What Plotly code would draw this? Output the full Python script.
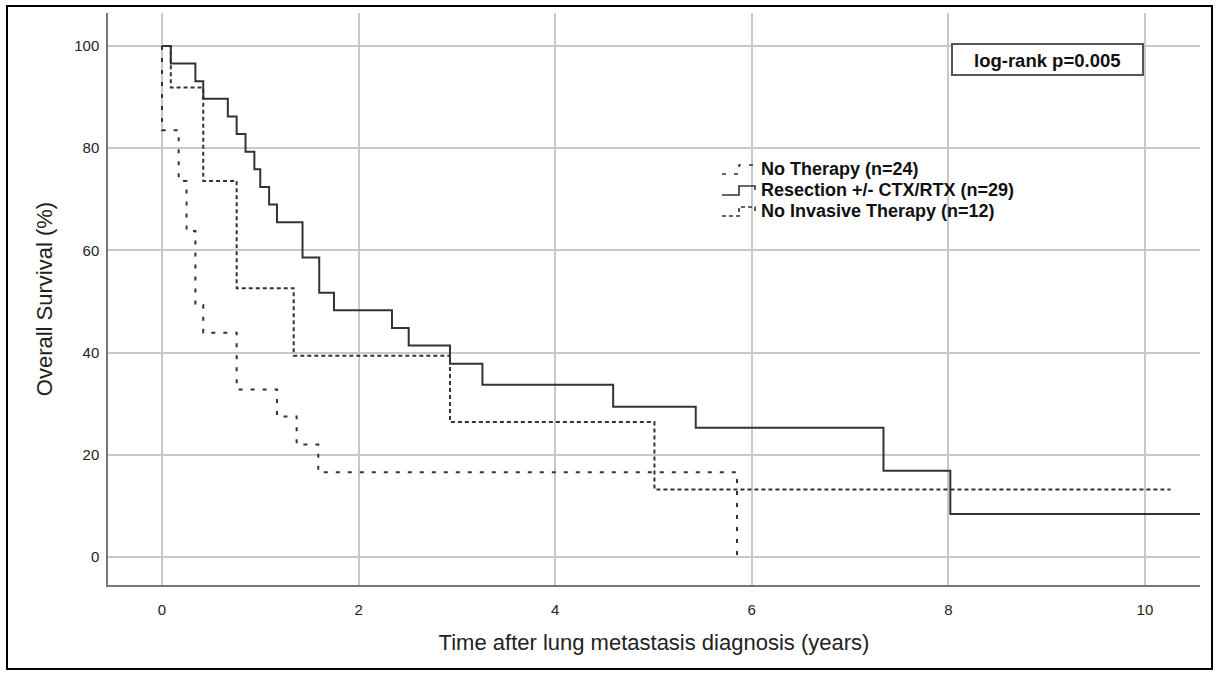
import plotly.graph_objects as go

# Kaplan-Meier step data: event times (years) and survival (%) after each event
no_therapy_t = [0.0, 0.0, 0.17, 0.25, 0.34, 0.42, 0.76, 1.17, 1.37, 1.59, 5.85]
no_therapy_s = [100, 83.5, 73.6, 63.8, 49.3, 43.9, 32.8, 27.5, 22.0, 16.6, 0.0]

resection_t = [0.0, 0.09, 0.34, 0.42, 0.67, 0.76, 0.85, 0.94, 1.00, 1.09, 1.17,
               1.43, 1.60, 1.75, 2.34, 2.51, 2.93, 3.26, 4.59, 5.43, 7.34, 8.02, 10.6]
resection_s = [100, 96.6, 93.1, 89.7, 86.2, 82.8, 79.3, 75.9, 72.4, 69.0, 65.5,
               58.6, 51.7, 48.3, 44.8, 41.4, 37.8, 33.7, 29.4, 25.3, 16.9, 8.4, 8.4]

no_invasive_t = [0.0, 0.09, 0.42, 0.76, 1.34, 2.93, 5.01, 10.26]
no_invasive_s = [100, 91.9, 73.6, 52.6, 39.4, 26.4, 13.2, 13.2]

group_labels = ["No Therapy (n=24)", "Resection +/- CTX/RTX (n=29)", "No Invasive Therapy (n=12)"]
x_ticks = [0, 2, 4, 6, 8, 10]
y_ticks = [0, 20, 40, 60, 80, 100]
p_text = "log-rank p=0.005"

FONT = "Liberation Sans, Arial, sans-serif"
LINE = "#333333"
W, H = 1219, 675
ML, MR, MT, MB = 108, 19, 13, 90
PW, PH = W - ML - MR, H - MT - MB


def px(xpix):
    """Figure pixel column -> paper x."""
    return (xpix - ML) / PW


def py(ypix):
    """Figure pixel row -> paper y."""
    return (H - MB - ypix) / PH


fig = go.Figure()
series = [
    (no_therapy_t, no_therapy_s, group_labels[0], "4px,8px"),
    (resection_t, resection_s, group_labels[1], "solid"),
    (no_invasive_t, no_invasive_s, group_labels[2], "4px,3px"),
]
for t, s, name, dash in series:
    fig.add_trace(go.Scatter(
        x=t, y=s, name=name, mode="lines",
        line=dict(shape="hv", color=LINE, width=2, dash=dash),
        hoverinfo="skip", showlegend=False,
    ))

fig.update_layout(
    width=W, height=H,
    margin=dict(l=ML, r=MR, t=MT, b=MB),
    paper_bgcolor="white", plot_bgcolor="white",
    font=dict(family=FONT, color="#222222"),
    xaxis=dict(
        range=[-0.549, 10.56], tickvals=x_ticks,
        showgrid=True, gridcolor="#c8c8c8", gridwidth=1.5,
        zeroline=False, showline=True, linecolor="#777777", linewidth=1.5,
        ticks="", ticklabelstandoff=10,
        tickfont=dict(size=15, color="#222222"),
        title=dict(text="Time after lung metastasis diagnosis (years)",
                   font=dict(size=22, color="#222222"), standoff=18),
    ),
    yaxis=dict(
        range=[-5.48, 106.46], tickvals=y_ticks,
        showgrid=True, gridcolor="#c8c8c8", gridwidth=1.5,
        zeroline=False, showline=True, linecolor="#777777", linewidth=1.5,
        ticks="", ticklabelstandoff=4,
        tickfont=dict(size=15, color="#222222"),
        title=dict(text="Overall Survival (%)",
                   font=dict(size=22, color="#222222"), standoff=16),
    ),
)

# legend: small step glyph followed by bold label
legend_rows = [169, 190, 211]
for (t, s, name, dash), yc in zip(series, legend_rows):
    path = "M %.5f,%.5f L %.5f,%.5f L %.5f,%.5f L %.5f,%.5f L %.5f,%.5f" % (
        px(722), py(yc + 5), px(739), py(yc + 5), px(739), py(yc - 4),
        px(755), py(yc - 4), px(755), py(yc))
    fig.add_shape(type="path", xref="paper", yref="paper", path=path,
                  line=dict(color=LINE, width=1.6, dash=dash), layer="above")
    fig.add_annotation(xref="paper", yref="paper", x=px(759), y=py(yc),
                       text="<b>%s</b>" % name, showarrow=False,
                       xanchor="left", yanchor="middle",
                       font=dict(family=FONT, size=18, color="#111111"))

# p-value box
bx0, bx1, by0, by1 = px(952), px(1143), py(75), py(44)
fig.add_shape(type="rect", xref="paper", yref="paper",
              x0=bx0, x1=bx1, y0=by0, y1=by1,
              line=dict(color="#555555", width=2), fillcolor="white", layer="above")
fig.add_annotation(xref="paper", yref="paper", x=(bx0 + bx1) / 2, y=py(60.5),
                   text="<b>%s</b>" % p_text, showarrow=False,
                   font=dict(family=FONT, size=18.5, color="#111111"),
                   xanchor="center", yanchor="middle")

# outer frame around the figure
fig.add_shape(type="rect", xref="paper", yref="paper",
              x0=px(7), x1=px(1212), y0=py(669), y1=py(6),
              line=dict(color="black", width=2), fillcolor="rgba(0,0,0,0)", layer="above")

fig.write_html("out.html")
